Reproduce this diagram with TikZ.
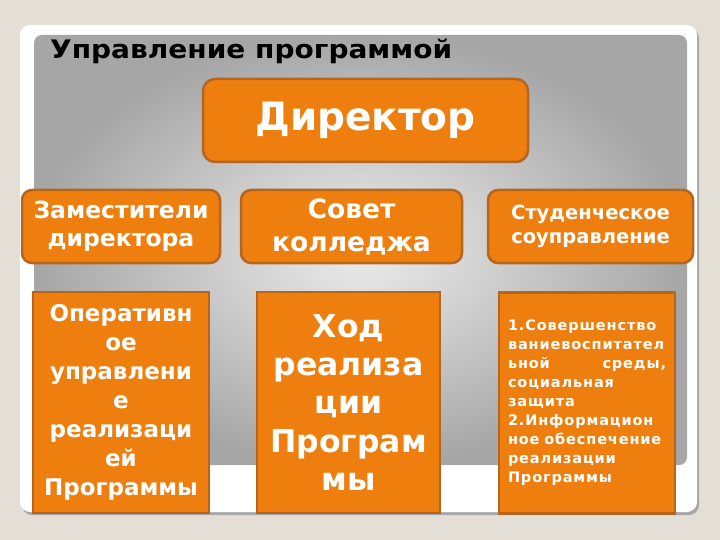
\documentclass[tikz,border=0pt]{standalone}
\usepackage{graphicx}
\usepackage{fontspec}
\setmainfont{DejaVu Sans}
\newfontfamily\spacedfont[LetterSpace=6]{DejaVu Sans}
\definecolor{bgbeige}{HTML}{E4DFD6}
\definecolor{orfill}{HTML}{EE7F0E}
\definecolor{ordraw}{HTML}{B5651E}
\definecolor{panelin}{HTML}{ECECEC}
\definecolor{panelout}{HTML}{A6A6A6}
\tikzset{
  obox/.style={draw=ordraw, fill=orfill, line width=2.5pt, text=white, inner sep=0pt, align=center},
  rbox/.style={obox, rounded corners=10pt},
  sbox/.style={obox},
}
\begin{document}
\begin{tikzpicture}[x=1pt,y=-1pt]
\useasboundingbox (0,0) rectangle (720,540);
\fill[bgbeige] (0,0) rectangle (720,540);
% white panel with shadow
\fill[black!35, rounded corners=10pt] (22,28) rectangle (699,515);
\fill[white, rounded corners=10pt] (20,25) rectangle (697,512);
% gray gradient panel
\shade[rounded corners=8pt, inner color=panelin, outer color=panelout] (34,35) rectangle (687,465);
% title
\node[anchor=base west, inner sep=0pt] (title) at (50,59) {\resizebox{402pt}{\height}{\bfseries\fontsize{25.5}{28}\selectfont Управление программой}};
% director
\node[rbox, rounded corners=12pt, minimum width=325pt, minimum height=83pt, font=\bfseries\fontsize{39}{44}\selectfont] (dir) at (365.5,120.5) {Директор};
% row 2
\node[rbox, minimum width=198pt, minimum height=73pt, text width=190pt, font=\bfseries\fontsize{23.5}{27.6}\selectfont] (zam) at (121,226.5) {Заместители\\директора};
\node[rbox, minimum width=221pt, minimum height=73pt, text width=210pt, font=\bfseries\fontsize{26.5}{33}\selectfont] (sov) at (351.5,226.5) {Совет\\колледжа};
\node[rbox, minimum width=205pt, minimum height=73pt, text width=200pt, font=\bfseries\fontsize{19.5}{24.3}\selectfont] (stu) at (590.5,226.5) {Студенческое\\соуправление};
% row 3
\node[sbox, minimum width=176pt, minimum height=221pt, text width=174pt, font=\bfseries\fontsize{23}{28.9}\selectfont] (oper) at (121,402.5) {Оперативн\\ое\\управлени\\е\\реализаци\\ей\\Программы};
\node[sbox, minimum width=183pt, minimum height=221pt, text width=180pt, font=\bfseries\fontsize{31.5}{38.3}\selectfont] (hod) at (348.5,402.5) {Ход\\реализа\\ции\\Програм\\мы};
\node[sbox, minimum width=176pt, minimum height=221pt, text width=158pt, align=left, font=\spacedfont\bfseries\fontsize{14.5}{19}\selectfont] (napr) at (587,403) {1.Совершенство\\ваниевоспитател\\\makebox[158pt][s]{ьной\hfill среды,}\\социальная\\защита\\2.Информацион\\ное обеспечение\\реализации\\Программы};
\end{tikzpicture}
\end{document}
